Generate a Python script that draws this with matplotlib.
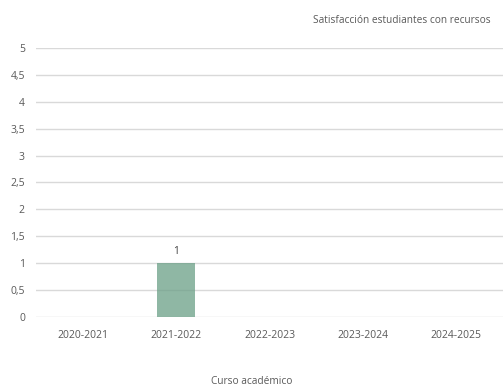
import matplotlib
matplotlib.use('Agg')
import matplotlib.pyplot as plt
from matplotlib.ticker import FuncFormatter

# data
cursos = ['2020-2021', '2021-2022', '2022-2023', '2023-2024', '2024-2025']
satisfaccion = [0, 1, 0, 0, 0]
etiquetas = ['', '1', '', '', '']

plt.rcParams['font.family'] = ['Open Sans', 'DejaVu Sans']
gris = '#595959'

fig = plt.figure(figsize=(5.03, 3.89), dpi=100)
ax = fig.add_axes([0.0716, 0.185, 0.9284, 0.692])

x = range(len(cursos))
bars = ax.bar(x, satisfaccion, width=0.41, color='#6a9f86', alpha=0.75, zorder=3)
for xi, v, lab in zip(x, satisfaccion, etiquetas):
    if lab:
        ax.text(xi, v + 0.12, lab, ha='center', va='bottom', fontsize=7.4, color='#404040')

ax.set_xlim(-0.5, len(cursos) - 0.5)
ax.set_ylim(0, 5)
ax.set_yticks([i * 0.5 for i in range(11)])
ax.yaxis.set_major_formatter(FuncFormatter(lambda v, p: f'{v:g}'.replace('.', ',')))
ax.set_xticks(list(x))
ax.set_xticklabels(cursos)
ax.grid(axis='y', color='#d9d9d9', linewidth=1, zorder=0)
ax.tick_params(axis='both', length=0, labelsize=7.5, labelcolor=gris)
ax.tick_params(axis='x', pad=9)
ax.tick_params(axis='y', pad=8)
for s in ax.spines.values():
    s.set_visible(False)

fig.text(0.975, 0.948, 'Satisfacción estudiantes con recursos', ha='right', va='center',
         fontsize=7.3, color=gris)
fig.text(0.5, 0.02, 'Curso académico', ha='center', va='center', fontsize=7.3, color=gris)

fig.savefig('out.png', dpi=100)
